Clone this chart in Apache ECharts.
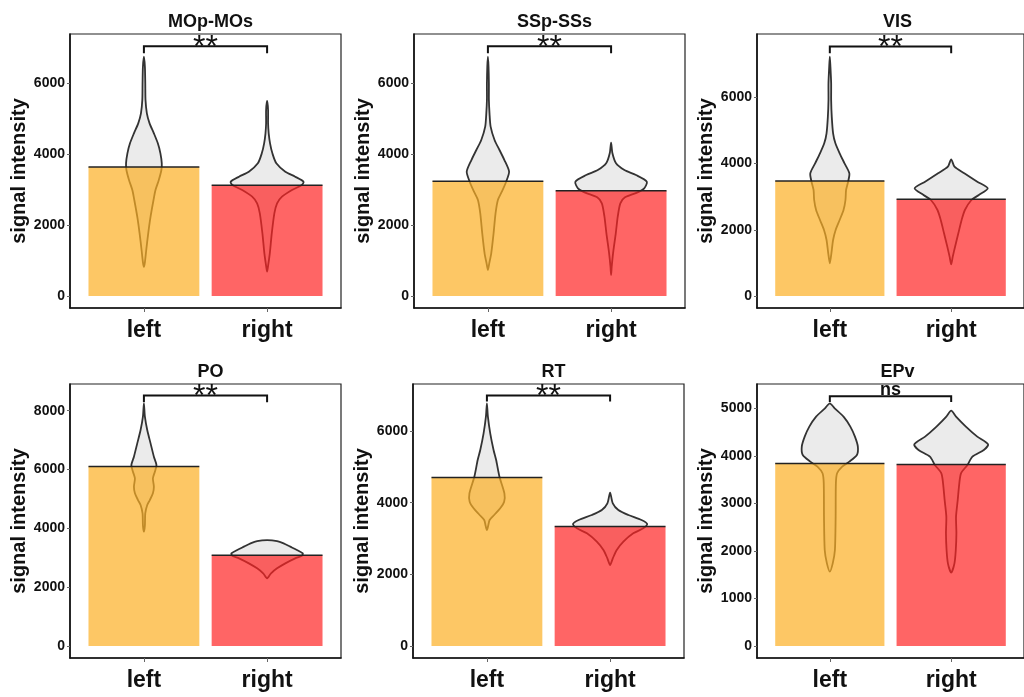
<!DOCTYPE html>
<html><head><meta charset="utf-8">
<script src="https://cdn.jsdelivr.net/npm/echarts@6/dist/echarts.min.js"></script>
<style>html,body{margin:0;padding:0;background:#fff}#c{width:1024px;height:697px}</style>
</head><body><div id="c"></div>
<script>
// ---------- data ----------
const panelTitles = ['MOp-MOs', 'SSp-SSs', 'VIS', 'PO', 'RT', 'EPv'];
const categories = ['left', 'right'];
const leftMeans  = [3642, 3239, 3474, 6099, 4700, 3838];
const rightMeans = [3127, 2966, 2921, 3085, 3332, 3817];
const sigLabels  = ['**', '**', '**', '**', '**', 'ns'];
const yTicks = [
  [0, 2000, 4000, 6000],
  [0, 2000, 4000, 6000],
  [0, 2000, 4000, 6000],
  [0, 2000, 4000, 6000, 8000],
  [0, 2000, 4000, 6000],
  [0, 1000, 2000, 3000, 4000, 5000]
];
const yMin = [-338, -338, -362, -408, -335, -252];
const yMax = [7391, 7391, 7911, 8908, 7312, 5511];
const bracketTop  = [7042, 7042, 7532, 8514, 6992, 5252];
const bracketDrop = [6845, 6845, 7332, 8289, 6824, 5132];

// violin profiles: [value, half-width as fraction of category spacing]
const vioMOpLeft = [[6751,0],[6469,.008],[5999,.011],[5529,.013],[5153,.024],[4871,.046],[4589,.081],[4307,.113],[4025,.134],[3743,.145],[3554,.142],[3272,.121],[2990,.094],[2708,.078],[2238,.054],[1768,.035],[1298,.019],[950,.008],[825,0]];
const vioMOpRight = [[5501,0],[5247,.008],[4871,.008],[4589,.013],[4307,.024],[4025,.043],[3743,.075],[3507,.148],[3366,.228],[3225,.296],[3131,.282],[2990,.202],[2802,.121],[2614,.081],[2332,.059],[1768,.038],[1204,.022],[850,.008],[686,0]];
const vioSSpLeft = [[6751,0],[6469,.005],[5999,.008],[5529,.008],[5153,.013],[4777,.022],[4401,.054],[4119,.094],[3836,.134],[3507,.172],[3225,.148],[2943,.113],[2708,.081],[2332,.062],[1768,.046],[1204,.027],[921,.011],[733,0]];
const vioSSpRight = [[4325,0],[4025,.011],[3743,.040],[3554,.108],[3413,.202],[3225,.290],[3037,.269],[2915,.210],[2783,.113],[2614,.075],[2238,.054],[1768,.038],[1204,.016],[827,.005],[592,0]];
const vioVISLeft = [[7228,0],[6926,.005],[6423,.011],[5919,.011],[5416,.016],[4913,.027],[4611,.046],[4309,.081],[4007,.121],[3705,.161],[3453,.151],[3201,.134],[2899,.129],[2597,.113],[2295,.081],[1993,.048],[1691,.027],[1289,.013],[987,0]];
const vioVISRight = [[4127,0],[3906,.027],[3705,.108],[3453,.215],[3252,.301],[3050,.228],[2899,.167],[2597,.113],[2295,.086],[1893,.059],[1490,.032],[1188,.013],[956,0]];
const vioPOLeft = [[8249,0],[7796,.008],[7342,.027],[6889,.054],[6436,.081],[6153,.102],[5926,.089],[5699,.073],[5416,.081],[5190,.073],[4963,.048],[4793,.027],[4510,.011],[4100,.008],[3887,0]];
const vioPORight = [[3603,0],[3569,.081],[3490,.134],[3377,.188],[3263,.242],[3150,.290],[3071,.282],[2980,.228],[2810,.148],[2640,.081],[2470,.032],[2334,.008],[2300,0]];
const vioRTLeft = [[6772,0],[6400,.008],[5935,.027],[5470,.054],[5191,.075],[4725,.102],[4260,.142],[4028,.140],[3842,.108],[3656,.059],[3516,.022],[3350,.010],[3237,0]];
const vioRTRight = [[4279,0],[3981,.022],[3795,.067],[3656,.148],[3516,.255],[3405,.301],[3284,.269],[3144,.188],[2912,.108],[2679,.054],[2446,.022],[2260,0]];
const vioEPvLeft = [[5105,0],[5000,.040],[4825,.113],[4615,.169],[4404,.207],[4194,.231],[4018,.223],[3878,.161],[3773,.102],[3633,.060],[3422,.050],[2721,.048],[2020,.042],[1739,.024],[1564,0]];
const vioEPvRight = [[4951,0],[4825,.040],[4615,.121],[4404,.215],[4243,.304],[4124,.269],[3983,.175],[3808,.134],[3633,.081],[3422,.067],[3072,.054],[2721,.040],[2370,.043],[2020,.038],[1739,.027],[1543,0]];
const violins = [
  [vioMOpLeft, vioMOpRight], [vioSSpLeft, vioSSpRight], [vioVISLeft, vioVISRight],
  [vioPOLeft, vioPORight], [vioRTLeft, vioRTRight], [vioEPvLeft, vioEPvRight]
];

// ---------- layout / style ----------
const FONT = 'Liberation Sans, Arial, Helvetica, sans-serif';
const gridLeft = [70, 414, 757, 70, 413, 757];
const gridTop  = [34, 34, 34, 384, 384, 384];
const gridW = 271, gridH = 274;
const barColors = ['rgba(252,175,35,0.7)', 'rgba(255,36,36,0.7)'];

const chart = echarts.init(document.getElementById('c'), null, {renderer: 'canvas'});

const grids = [], xAxes = [], yAxes = [], titles = [], series = [];
panelTitles.forEach((t, p) => {
  grids.push({left: gridLeft[p], top: gridTop[p], width: gridW, height: gridH,
    show: true, borderColor: '#222', borderWidth: 1.2, backgroundColor: 'transparent'});
  xAxes.push({type: 'value', gridIndex: p, min: -0.6, max: 1.6,
    splitLine: {show: false},
    axisLine: {show: true, onZero: false, lineStyle: {color: '#111', width: 1.6}},
    axisTick: {show: true, customValues: [0, 1], length: 4, lineStyle: {color: '#666'}},
    axisLabel: {show: true, customValues: [0, 1], formatter: v => categories[Math.round(v)],
      fontFamily: FONT, fontWeight: 'bold', fontSize: 23, color: '#111', margin: 11}
  });
  yAxes.push({type: 'value', gridIndex: p, min: yMin[p], max: yMax[p],
    splitLine: {show: false},
    axisLine: {show: true, onZero: false, lineStyle: {color: '#111', width: 1.6}},
    axisTick: {show: true, customValues: yTicks[p], length: 3, lineStyle: {color: '#666'}},
    axisLabel: {show: true, customValues: yTicks[p], formatter: v => String(v),
      fontFamily: FONT, fontWeight: 'bold', fontSize: 14, color: '#111', margin: 5},
    name: 'signal intensity', nameLocation: 'middle', nameRotate: 90, nameGap: 31,
    nameTextStyle: {fontFamily: FONT, fontWeight: 'bold', fontSize: 20, color: '#111'}
  });
  titles.push({text: t, left: gridLeft[p] + gridW / 2, top: gridTop[p] - 26, textAlign: 'center',
    textStyle: {fontFamily: FONT, fontWeight: 'bold', fontSize: 18, color: '#111'}});

  // violins (drawn under the semi-transparent bars)
  series.push({type: 'custom', xAxisIndex: p, yAxisIndex: p, clip: false, z: 2,
    data: [[0, leftMeans[p]], [1, rightMeans[p]]],
    renderItem: (params, api) => {
      const side = api.value(0);
      const prof = violins[p][side];
      const rightSide = prof.map(d => api.coord([side + d[1], d[0]]));
      const leftSide = prof.slice(1, -1).reverse().map(d => api.coord([side - d[1], d[0]]));
      return {type: 'polygon', shape: {points: rightSide.concat(leftSide), smooth: 0.25},
        style: {fill: '#EBEBEB', stroke: '#333', lineWidth: 1.8}};
    }
  });
  // bars with top line
  series.push({type: 'custom', xAxisIndex: p, yAxisIndex: p, clip: false, z: 3,
    data: [[0, leftMeans[p]], [1, rightMeans[p]]],
    renderItem: (params, api) => {
      const side = api.value(0), v = api.value(1);
      const tl = api.coord([side - 0.45, v]);
      const br = api.coord([side + 0.45, 0]);
      return {type: 'group', children: [
        {type: 'rect', shape: {x: tl[0], y: tl[1], width: br[0] - tl[0], height: br[1] - tl[1]},
          style: {fill: barColors[side]}},
        {type: 'line', shape: {x1: tl[0], y1: tl[1], x2: br[0], y2: tl[1]},
          style: {stroke: '#222', lineWidth: 1.5}}
      ]};
    }
  });
  // significance bracket
  series.push({type: 'custom', xAxisIndex: p, yAxisIndex: p, clip: false, z: 4,
    data: [[0.5, bracketTop[p]]],
    renderItem: (params, api) => {
      const a = api.coord([0, bracketDrop[p]]), b = api.coord([0, bracketTop[p]]);
      const c = api.coord([1, bracketTop[p]]), d = api.coord([1, bracketDrop[p]]);
      const m = api.coord([0.5, bracketTop[p]]);
      const isNs = sigLabels[p] === 'ns';
      return {type: 'group', children: [
        {type: 'polyline', shape: {points: [a, b, c, d]}, style: {stroke: '#111', lineWidth: 2, fill: null}},
        {type: 'text', x: m[0], y: m[1] + (isNs ? -6 : 2),
          style: {text: sigLabels[p], fontFamily: FONT, fontSize: isNs ? 18 : 32,
            fontWeight: isNs ? 'bold' : 'normal', fill: '#111', align: 'center', verticalAlign: 'middle'}}
      ]};
    }
  });
});

chart.setOption({
  animation: false,
  backgroundColor: '#fff',
  title: titles,
  grid: grids,
  xAxis: xAxes,
  yAxis: yAxes,
  series: series
});
</script>
</body></html>
